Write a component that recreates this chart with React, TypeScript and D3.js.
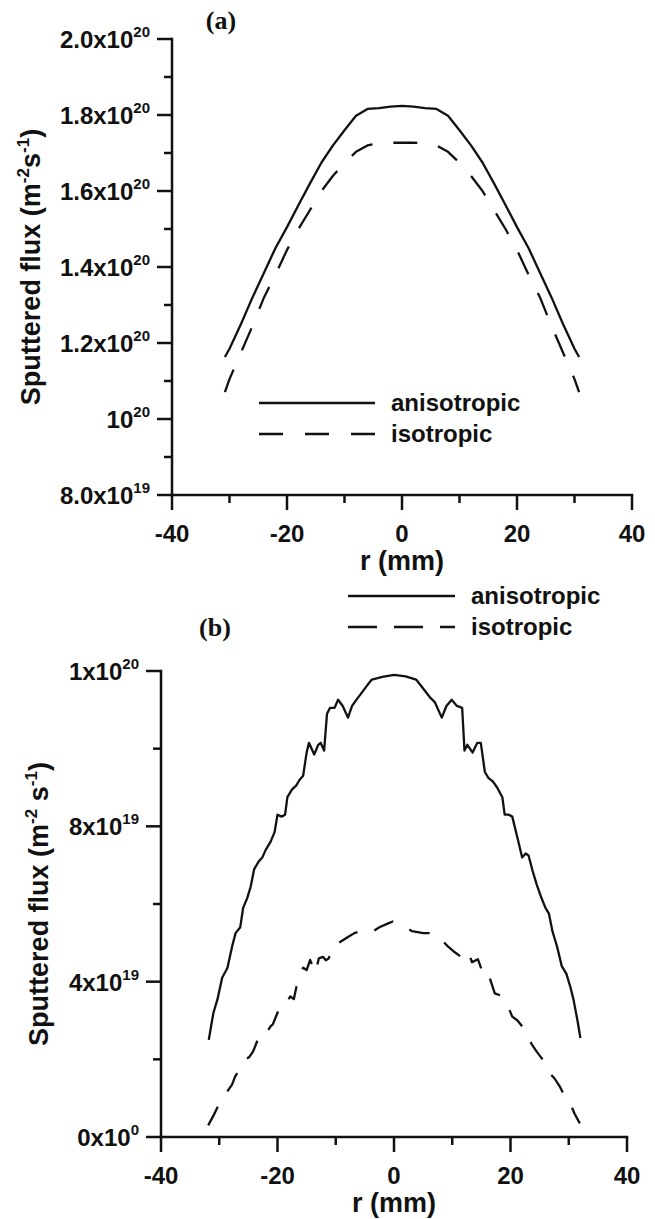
import React from "react";
import * as d3 from "d3";

// ---------- Panel (a) data (flux in 1e20 m^-2 s^-1) ----------
const R_A = [-30.8, -30, -28, -26, -24, -22, -20, -18, -16, -14, -12, -10, -8, -6, -4, -2, 0, 2, 4, 6, 8, 10, 12, 14, 16, 18, 20, 22, 24, 26, 28, 30, 30.8];
const ANISO_A = [1.163, 1.185, 1.25, 1.32, 1.385, 1.45, 1.505, 1.563, 1.62, 1.675, 1.72, 1.76, 1.798, 1.816, 1.818, 1.822, 1.824, 1.822, 1.818, 1.816, 1.798, 1.76, 1.72, 1.675, 1.62, 1.563, 1.505, 1.45, 1.385, 1.32, 1.25, 1.185, 1.163];
const ISO_A = [1.071, 1.105, 1.175, 1.245, 1.32, 1.38, 1.445, 1.5, 1.55, 1.6, 1.64, 1.674, 1.703, 1.72, 1.726, 1.727, 1.727, 1.727, 1.726, 1.72, 1.703, 1.674, 1.64, 1.6, 1.55, 1.5, 1.445, 1.38, 1.32, 1.245, 1.175, 1.105, 1.071];

// ---------- Panel (b) data (flux in 1e19 m^-2 s^-1) ----------
const R_B_ANISO = [-31.8, -31.0, -30.3, -29.5, -28.6, -27.8, -27.2, -26.4, -25.9, -25.2, -24.6, -24.0, -23.2, -22.6, -22.0, -21.2, -20.5, -20.0, -19.3, -18.7, -18.3, -17.5, -16.8, -16.2, -15.6, -15.0, -14.6, -13.7, -13.0, -12.6, -12.0, -11.5, -11.0, -10.2, -9.6, -8.8, -7.9, -7.2, -6.5, -5.5, -4.5, -3.8, -2, 0, 2, 3.8, 5, 6.3, 7.0, 8.2, 9.0, 9.9, 10.8, 11.7, 12.1, 12.6, 13.5, 14.3, 14.9, 15.6, 16.2, 17.0, 17.7, 18.6, 19.0, 19.7, 20.3, 21.2, 22.0, 22.6, 23.1, 23.8, 24.5, 25.2, 26.0, 26.6, 27.2, 28.0, 28.8, 29.6, 30.3, 30.8, 31.5, 32.0];
const ANISO_B = [2.5, 3.2, 3.55, 4.1, 4.35, 4.9, 5.25, 5.4, 5.9, 6.15, 6.45, 6.9, 7.1, 7.2, 7.4, 7.6, 7.85, 8.3, 8.25, 8.3, 8.75, 8.95, 9.05, 9.2, 9.3, 9.9, 10.15, 9.85, 10.1, 10.15, 9.95, 10.9, 11.05, 11.05, 11.26, 11.1, 10.8, 11.1, 11.25, 11.45, 11.65, 11.78, 11.85, 11.9, 11.86, 11.78, 11.55, 11.3, 11.2, 10.8, 11.1, 11.26, 11.1, 11.05, 9.95, 10.1, 9.9, 10.15, 10.15, 9.4, 9.25, 9.15, 9.0, 8.75, 8.3, 8.3, 8.25, 7.7, 7.2, 7.3, 7.25, 6.85, 6.5, 6.2, 5.9, 5.75, 5.3, 4.9, 4.4, 4.2, 3.85, 3.55, 3.0, 2.55];
const R_B_ISO = [-31.9, -31.0, -30.2, -29.3, -28.5, -27.8, -27.3, -26.5, -25.6, -24.9, -24.2, -23.4, -22.6, -21.8, -21.2, -20.8, -20.0, -19.2, -18.5, -17.8, -17.2, -16.5, -15.6, -15.0, -14.4, -13.5, -12.9, -12.2, -11.7, -11.2, -10.6, -9.5, -7.9, -6.8, -5.8, -4.1, -2.5, -1.0, -0.2, 1.5, 3.1, 5.0, 6.7, 8.0, 9.3, 10.5, 11.7, 12.7, 13.4, 14.4, 15.3, 16.1, 17.3, 18.2, 19.2, 20.3, 21.2, 22.1, 23.6, 24.5, 25.6, 26.8, 27.6, 28.5, 29.3, 30.2, 31.0, 31.9];
const ISO_B = [0.3, 0.55, 0.8, 1.0, 1.2, 1.35, 1.55, 1.75, 2.0, 2.05, 2.2, 2.5, 2.72, 2.7, 2.85, 2.9, 3.2, 3.45, 3.45, 3.62, 3.55, 4.05, 4.36, 4.3, 4.56, 4.23, 4.6, 4.64, 4.55, 4.6, 4.9, 5.0, 5.15, 5.25, 5.3, 5.25, 5.4, 5.5, 5.55, 5.45, 5.3, 5.25, 5.25, 5.1, 4.9, 4.75, 4.62, 4.78, 4.5, 4.58, 4.2, 4.25, 3.7, 3.65, 3.5, 3.1, 3.0, 2.83, 2.4, 2.2, 1.98, 1.63, 1.5, 1.29, 1.05, 0.88, 0.6, 0.35];

// ---------- Axes ----------
const X_MAJOR = [-40, -20, 0, 20, 40];
const X_MINOR = [-30, -10, 10, 30];
const X_LABELS = ["-40", "-20", "0", "20", "40"];

const Y_A_MAJOR = [0.8, 1.0, 1.2, 1.4, 1.6, 1.8, 2.0];
const Y_A_MINOR = [0.9, 1.1, 1.3, 1.5, 1.7, 1.9];
const Y_A_MANT = ["8.0x10", "10", "1.2x10", "1.4x10", "1.6x10", "1.8x10", "2.0x10"];
const Y_A_EXP = ["19", "20", "20", "20", "20", "20", "20"];

const Y_B_MAJOR = [0, 4, 8, 12];
const Y_B_MINOR = [2, 6, 10];
const Y_B_MANT = ["0x10", "4x10", "8x10", "1x10"];
const Y_B_EXP = ["0", "19", "19", "20"];

const SANS = "'Liberation Sans', Arial, sans-serif";
const SERIF = "'Liberation Serif', 'Times New Roman', serif";

type PanelProps = {
  xr: [number, number];
  yr: [number, number];
  ydom: [number, number];
  yMajor: number[];
  yMinor: number[];
  yMant: string[];
  yExp: string[];
  aniso: { r: number[]; v: number[] };
  iso: { r: number[]; v: number[] };
  dash: string;
  titleX: number;
  titleSpace: boolean;
};

function Panel(p: PanelProps) {
  const x = d3.scaleLinear().domain([-40, 40]).range(p.xr);
  const y = d3.scaleLinear().domain(p.ydom).range(p.yr);
  const line = d3
    .line<[number, number]>()
    .x((d) => x(d[0]))
    .y((d) => y(d[1]));
  const aPts = p.aniso.r.map((r, i) => [r, p.aniso.v[i]] as [number, number]);
  const iPts = p.iso.r.map((r, i) => [r, p.iso.v[i]] as [number, number]);
  const x0 = p.xr[0];
  const yb = p.yr[0];
  const yt = p.yr[1];
  const cy = (yb + yt) / 2;
  const cx = (p.xr[0] + p.xr[1]) / 2;
  return (
    <g>
      <line x1={x0} x2={x0} y1={yt} y2={yb} stroke="#111" strokeWidth={2.5} strokeLinecap="square" />
      <line x1={x0} x2={p.xr[1]} y1={yb} y2={yb} stroke="#111" strokeWidth={2.5} strokeLinecap="square" />
      {p.yMajor.map((v, i) => (
        <g key={"ym" + i}>
          <line x1={x0 - 15} x2={x0} y1={y(v)} y2={y(v)} stroke="#111" strokeWidth={2.5} />
          <text x={x0 - 22} y={y(v) + 9} textAnchor="end" fontFamily={SANS} fontWeight="bold" fontSize={24} fill="#111">
            {p.yMant[i]}
            <tspan fontSize={15} dy={-11}>{p.yExp[i]}</tspan>
          </text>
        </g>
      ))}
      {p.yMinor.map((v, i) => (
        <line key={"yn" + i} x1={x0 - 8} x2={x0} y1={y(v)} y2={y(v)} stroke="#111" strokeWidth={2.5} />
      ))}
      {X_MAJOR.map((v, i) => (
        <g key={"xm" + i}>
          <line x1={x(v)} x2={x(v)} y1={yb} y2={yb + 15} stroke="#111" strokeWidth={2.5} />
          <text x={x(v)} y={yb + 47} textAnchor="middle" fontFamily={SANS} fontWeight="bold" fontSize={24} fill="#111">
            {X_LABELS[i]}
          </text>
        </g>
      ))}
      {X_MINOR.map((v, i) => (
        <line key={"xn" + i} x1={x(v)} x2={x(v)} y1={yb} y2={yb + 8} stroke="#111" strokeWidth={2.5} />
      ))}
      <text x={cx} y={yb + 75} textAnchor="middle" fontFamily={SANS} fontWeight="bold" fontSize={27} fill="#111">
        r (mm)
      </text>
      <text
        transform={`translate(${p.titleX},${cy}) rotate(-90)`}
        textAnchor="middle"
        fontFamily={SANS}
        fontWeight="bold"
        fontSize={27}
        fill="#111"
      >
        Sputtered flux (m
        <tspan fontSize={17} dy={-11}>-2</tspan>
        <tspan dy={11}>{p.titleSpace ? " s" : "s"}</tspan>
        <tspan fontSize={17} dy={-11}>-1</tspan>
        <tspan dy={11}>)</tspan>
      </text>
      <path d={line(aPts) || ""} fill="none" stroke="#111" strokeWidth={2.3} strokeLinejoin="round" />
      <path d={line(iPts) || ""} fill="none" stroke="#111" strokeWidth={2.3} strokeDasharray={p.dash} strokeLinejoin="round" />
    </g>
  );
}

function Legend({ x1, x2, y1, y2, dash }: { x1: number; x2: number; y1: number; y2: number; dash: string }) {
  return (
    <g>
      <line x1={x1} x2={x2} y1={y1} y2={y1} stroke="#111" strokeWidth={2.3} />
      <text x={x2 + 16} y={y1 + 8} fontFamily={SANS} fontWeight="bold" fontSize={24} fill="#111">
        anisotropic
      </text>
      <line x1={x1} x2={x2} y1={y2} y2={y2} stroke="#111" strokeWidth={2.3} strokeDasharray={dash} />
      <text x={x2 + 16} y={y2 + 8} fontFamily={SANS} fontWeight="bold" fontSize={24} fill="#111">
        isotropic
      </text>
    </g>
  );
}

export default function App() {
  return (
    <svg
      width={655}
      height={1219}
      viewBox="0 0 655 1219"
      style={{ position: "absolute", left: 0, top: 0, background: "#fff" }}
    >
      <rect x={0} y={0} width={655} height={1219} fill="#fff" />
      <text x={221} y={29} textAnchor="middle" fontFamily={SERIF} fontWeight="bold" fontSize={26} fill="#111">
        (a)
      </text>
      <Panel
        xr={[172, 632]}
        yr={[495, 39]}
        ydom={[0.8, 2.0]}
        yMajor={Y_A_MAJOR}
        yMinor={Y_A_MINOR}
        yMant={Y_A_MANT}
        yExp={Y_A_EXP}
        aniso={{ r: R_A, v: ANISO_A }}
        iso={{ r: R_A, v: ISO_A }}
        dash="24,21"
        titleX={40}
        titleSpace={false}
      />
      <Legend x1={259} x2={375} y1={403} y2={434} dash="24,22" />

      <text x={215} y={636} textAnchor="middle" fontFamily={SERIF} fontWeight="bold" fontSize={26} fill="#111">
        (b)
      </text>
      <Legend x1={348} x2={455} y1={596} y2={627} dash="29,17" />
      <Panel
        xr={[161, 627]}
        yr={[1137, 671]}
        ydom={[0, 12]}
        yMajor={Y_B_MAJOR}
        yMinor={Y_B_MINOR}
        yMant={Y_B_MANT}
        yExp={Y_B_EXP}
        aniso={{ r: R_B_ANISO, v: ANISO_B }}
        iso={{ r: R_B_ISO, v: ISO_B }}
        dash="21,18"
        titleX={48}
        titleSpace={true}
      />
    </svg>
  );
}
